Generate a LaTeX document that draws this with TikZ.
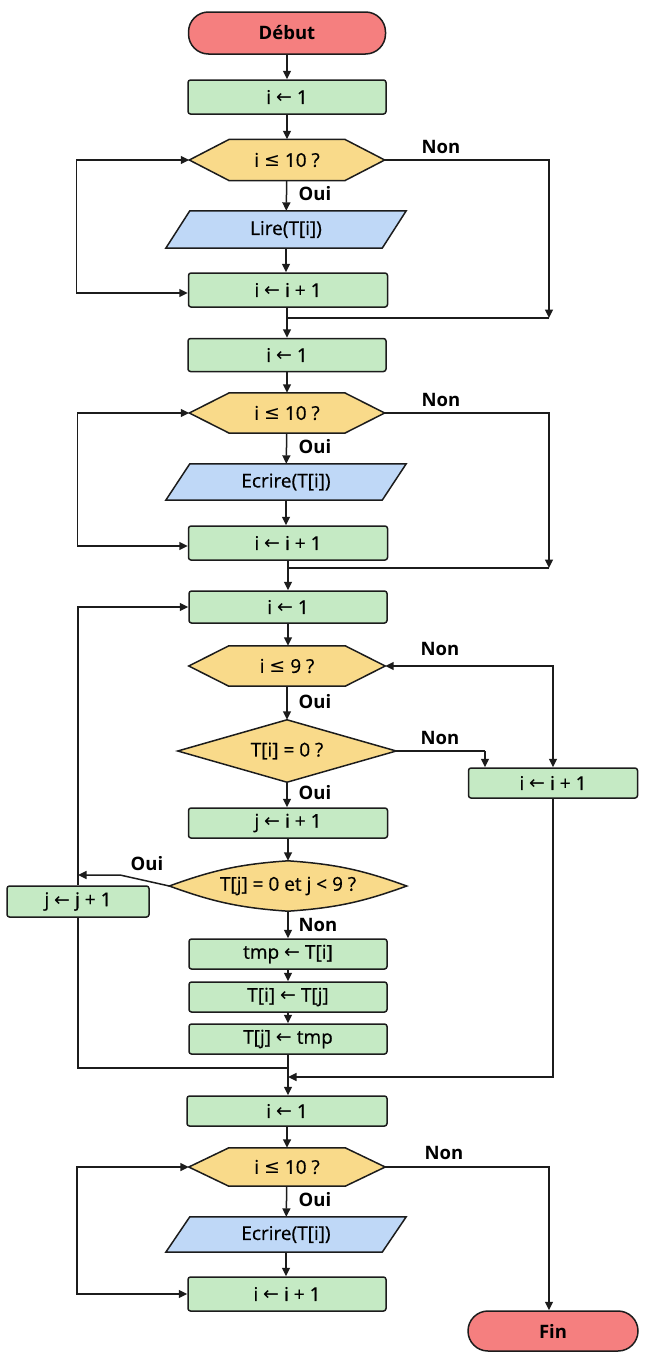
\documentclass[tikz,border=0pt]{standalone}
\usepackage{fontspec}
\setmainfont{Open Sans}
\newfontfamily\medf{Open Sans}[FakeBold=0.6]
\newfontfamily\symf{DejaVu Sans}
\usetikzlibrary{arrows.meta,backgrounds}
\newcommand{\la}{{\symf ←}}
\newcommand{\lte}{{\symf ≤}}
\definecolor{gfill}{RGB}{197,234,196}
\definecolor{yfill}{RGB}{249,218,138}
\definecolor{bfill}{RGB}{191,216,247}
\definecolor{rfill}{RGB}{245,127,127}
\definecolor{lc}{RGB}{28,28,28}
\newcommand{\drawhex}[1]{\path[shp,fill=yfill] (#1.west) -- ([xshift=40pt]#1.north west) -- ([xshift=-40pt]#1.north east) -- (#1.east) -- ([xshift=-40pt]#1.south east) -- ([xshift=40pt]#1.south west) -- cycle;}
\newcommand{\drawio}[1]{\path[shp,fill=bfill] ([xshift=24pt]#1.north west) -- (#1.north east) -- ([xshift=-24pt]#1.south east) -- (#1.south west) -- cycle;}
\begin{document}
\begin{tikzpicture}[x=1pt,y=-1pt,
  every node/.style={font=\fontsize{19}{22}\medf, inner sep=0pt},
  proc/.style={draw=lc, fill=gfill, line width=1.5pt, rounded corners=2.5pt},
  term/.style={draw=lc, fill=rfill, line width=1.5pt, rounded corners=20pt, font=\fontsize{18.5}{21}\rmfamily\bfseries},
  plain/.style={},
  lbl/.style={font=\fontsize{18.5}{21}\rmfamily\bfseries},
  shp/.style={line width=1.5pt, draw=lc, line join=miter},
  conn/.style={line width=1.5pt, draw=lc},
  arr/.style={conn, -{Triangle[length=8.5pt,width=8pt]}},
  darr/.style={conn, {Triangle[length=8.5pt,width=8pt]}-{Triangle[length=8.5pt,width=8pt]}},
]
\useasboundingbox (0,0) rectangle (650,1360);

% ---- block 1
\node[term, minimum width=197pt, minimum height=42pt] (start) at (287,33) {Début};
\node[proc, minimum width=198pt, minimum height=34pt] (a1) at (287,97) {i \la{} 1};
\node[plain, minimum width=195pt, minimum height=41pt] (h1) at (287,160) {i \lte{} 10 ?};
\node[plain, minimum width=240pt, minimum height=37pt] (io1) at (286,229.5) {Lire(T[i])};
\node[proc, minimum width=199pt, minimum height=34pt] (inc1) at (288,290) {i \la{} i + 1};

% ---- block 2
\node[proc, minimum width=198pt, minimum height=33pt] (a2) at (287,355) {i \la{} 1};
\node[plain, minimum width=195pt, minimum height=40pt] (h2) at (287,413) {i \lte{} 10 ?};
\node[plain, minimum width=240pt, minimum height=36pt] (io2) at (286,482) {Ecrire(T[i])};
\node[proc, minimum width=199pt, minimum height=34pt] (inc2) at (288,543) {i \la{} i + 1};

% ---- block 3
\node[proc, minimum width=198pt, minimum height=32pt] (a3) at (288,607) {i \la{} 1};
\node[plain, minimum width=196pt, minimum height=40pt] (h3) at (287,666) {i \lte{} 9 ?};
\node[plain, minimum width=218pt, minimum height=62pt] (d1) at (287,751) {T[i] = 0 ?};
\node[proc, minimum width=169pt, minimum height=30pt] (r1) at (553,783) {i \la{} i + 1};
\node[proc, minimum width=199pt, minimum height=30pt] (j1) at (288,823) {j \la{} i + 1};
\node[plain, minimum width=237pt, minimum height=50pt] (d2) at (288,886) {T[j] = 0 et j < 9 ?};
\node[proc, minimum width=142pt, minimum height=31pt] (jj) at (78,901.5) {j \la{} j + 1};
\node[proc, minimum width=198pt, minimum height=30pt] (s1) at (288,954) {tmp \la{} T[i]};
\node[proc, minimum width=198pt, minimum height=30pt] (s2) at (288,997) {T[i] \la{} T[j]};
\node[proc, minimum width=198pt, minimum height=30pt] (s3) at (288,1039) {T[j] \la{} tmp};

% ---- block 4
\node[proc, minimum width=200pt, minimum height=30pt] (a4) at (287,1111) {i \la{} 1};
\node[plain, minimum width=196pt, minimum height=38pt] (h4) at (287,1167) {i \lte{} 10 ?};
\node[plain, minimum width=240pt, minimum height=35pt] (io3) at (286,1234.5) {Ecrire(T[i])};
\node[proc, minimum width=198pt, minimum height=34pt] (inc3) at (287,1294) {i \la{} i + 1};
\node[term, minimum width=170pt, minimum height=40pt] (fin) at (553,1331) {Fin};

% ---- shapes behind text
\begin{scope}[on background layer]
\drawhex{h1}\drawhex{h2}\drawhex{h3}\drawhex{h4}
\drawio{io1}\drawio{io2}\drawio{io3}
\path[shp,fill=yfill] (d1.west) -- (d1.north) -- (d1.east) -- (d1.south) -- cycle;
\path[shp,fill=yfill] (d2.west) to[bend left=8] (d2.north) to[bend left=8] (d2.east) to[bend left=8] (d2.south) to[bend left=8] cycle;
\end{scope}

% ---- labels
\node[lbl] (n1) at (441,147) {Non};
\node[lbl] (o1) at (315,194) {Oui};
\node[lbl] (n2) at (441,400) {Non};
\node[lbl] (o2) at (315,447) {Oui};
\node[lbl] (n3) at (440,649) {Non};
\node[lbl] (o3) at (315,702) {Oui};
\node[lbl] (n4) at (440,738) {Non};
\node[lbl] (o4) at (315,793) {Oui};
\node[lbl] (o5) at (147,864) {Oui};
\node[lbl] (n5) at (318,925) {Non};
\node[lbl] (n6) at (444,1153) {Non};
\node[lbl] (o6) at (315,1200) {Oui};

% ---- coordinates
\coordinate (c1) at (549,318);
\coordinate (m1) at (287,318);
\coordinate (c2) at (549,568);
\coordinate (m2) at (287,568);
\coordinate (k1) at (485,751);
\coordinate (k2) at (120,875);
\coordinate (k3) at (78,875);
\coordinate (k4) at (78,607);
\coordinate (k5) at (78,1068);
\coordinate (m3) at (288,1068);
\coordinate (k6) at (553,1077);
\coordinate (m4) at (288,1077);

% ---- block 1 connectors
\draw[arr] (start) -- (a1);
\draw[arr] (a1) -- (h1);
\draw[arr] (h1) -- (io1);
\draw[arr] (io1) -- (inc1.north -| io1.south);
\draw[arr] (inc1.south -| a2.north) -- (a2);
\draw[arr] (h1.east) -| (c1);
\draw[conn] (c1) -- (m1);
\draw[darr] (h1.west) -- ++(-113,0) |- ([yshift=-3pt]inc1.west);

% ---- block 2 connectors
\draw[arr] (a2) -- (h2);
\draw[arr] (h2) -- (io2);
\draw[arr] (io2) -- (inc2.north -| io2.south);
\draw[arr] (inc2.south -| a3.north) -- (a3);
\draw[arr] (h2.east) -| (c2);
\draw[conn] (c2) -- (m2);
\draw[darr] (h2.west) -- ++(-112,0) |- ([yshift=-3pt]inc2.west);

% ---- block 3 connectors
\draw[arr] (a3) -- (h3.north -| a3.south);
\draw[arr] (h3.south -| d1.north) -- (d1);
\draw[arr] (d1) -- (j1.north -| d1.south);
\draw[conn] (d1.east) -- (k1);
\draw[arr] (k1) -- (k1 |- r1.north);
\draw[darr] (h3.east) -| (r1.north);
\draw[arr] (j1) -- (d2);
\draw[arr] (d2) -- (s1);
\draw[arr] (s1) -- (s2);
\draw[arr] (s2) -- (s3);
\draw[arr] (s3) -- (a4.north -| s3.south);
\draw[arr] (d2.west) -- (k2) -- (k3);
\draw[arr] (jj.north) -- (k4) -- (a3.west);
\draw[conn] (jj.south) -- (k5) -- (m3);
\draw[arr] (r1.south) -- (k6) -- (m4);

% ---- block 4 connectors
\draw[arr] (a4) -- (h4);
\draw[arr] (h4) -- (io3);
\draw[arr] (io3) -- (inc3.north -| io3.south);
\draw[arr] (h4.east) -| (fin.north -| 549,0);
\draw[darr] (h4.west) -- ++(-112,0) |- (inc3.west);
\end{tikzpicture}
\end{document}
